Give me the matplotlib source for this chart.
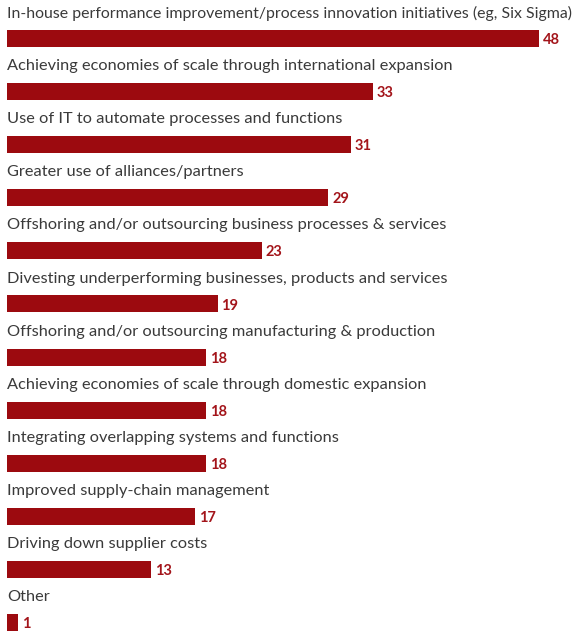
import matplotlib.pyplot as plt

# Survey responses, % of respondents
labels = [
    "In-house performance improvement/process innovation initiatives (eg, Six Sigma)",
    "Achieving economies of scale through international expansion",
    "Use of IT to automate processes and functions",
    "Greater use of alliances/partners",
    "Offshoring and/or outsourcing business processes & services",
    "Divesting underperforming businesses, products and services",
    "Offshoring and/or outsourcing manufacturing & production",
    "Achieving economies of scale through domestic expansion",
    "Integrating overlapping systems and functions",
    "Improved supply-chain management",
    "Driving down supplier costs",
    "Other",
]
values = [48, 33, 31, 29, 23, 19, 18, 18, 18, 17, 13, 1]

bar_color = "#9c0a0f"
text_color = "#3a3a3a"
value_color = "#a3141a"

fig = plt.figure(figsize=(5.76, 6.33), dpi=100)
ax = fig.add_axes([0, 0, 1, 1])

rows = list(range(len(values)))
ax.barh(rows, values, height=0.32, color=bar_color, left=0)

ax.set_xlim(-0.632, 51.35)
ax.set_ylim(11.196, -0.725)
ax.axis("off")

renderer = fig.canvas.get_renderer()
max_w = 566  # px available for a label line

for i, (lab, v) in enumerate(zip(labels, values)):
    t = ax.text(0, i - 0.48, lab, ha="left", va="center", fontsize=11.8,
                family="Lato", color=text_color)
    # shrink long labels so they stay inside the figure
    w = t.get_window_extent(renderer).width
    if w > max_w:
        t.set_fontsize(11.8 * max_w / w)
    ax.text(v + 0.35, i + 0.03, str(v), ha="left", va="center", fontsize=10.5,
            family="Lato", fontweight="bold", color=value_color)

fig.savefig("out.png", dpi=100)
